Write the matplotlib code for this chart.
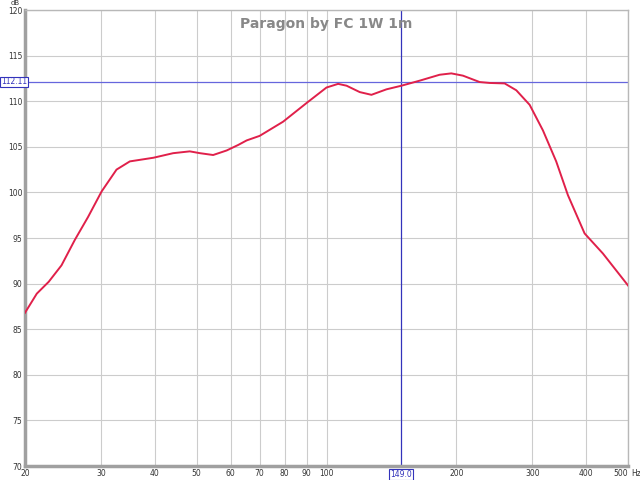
import numpy as np
import matplotlib.pyplot as plt
from matplotlib.ticker import FixedLocator, NullLocator

# response
freq = [20, 21.3, 22.7, 24.3, 26.1, 28.0, 30.1, 32.6, 35.0, 39.7, 44.1, 48.2,
        50.9, 54.6, 58.7, 62.4, 65.3, 70.0, 79.3, 89.9, 100, 106.4, 111.3,
        119.4, 127.1, 137.7, 149.2, 164.4, 182.9, 194.7, 207.2, 226.5, 239,
        258.8, 275.4, 295.8, 317.5, 340.8, 362.8, 396.6, 437.3, 500]
spl = [86.8, 88.9, 90.2, 92.0, 94.8, 97.3, 100.1, 102.5, 103.4, 103.8, 104.3,
       104.5, 104.3, 104.1, 104.6, 105.2, 105.7, 106.2, 107.75, 109.8, 111.5,
       111.9, 111.7, 111.0, 110.7, 111.3, 111.7, 112.25, 112.9, 113.05, 112.8,
       112.1, 112.0, 111.95, 111.2, 109.6, 106.8, 103.4, 99.7, 95.5, 93.3, 89.8]

xticks = [20, 30, 40, 50, 60, 70, 80, 90, 100, 200, 300, 400, 500]
xlabels = ['20', '30', '40', '50', '60', '70', '80', '90', '100', '200', '300', '400', '500']
yticks = list(range(70, 121, 5))

cursor_f = 149.0
cursor_db = 112.11

fig = plt.figure(figsize=(6.4, 4.8), dpi=100)
ax = fig.add_axes([25 / 640, 1 - 466 / 480, 603 / 640, 456 / 480])

ax.set_xscale('log')
ax.set_xlim(20, 500)
ax.set_ylim(70, 120)
ax.xaxis.set_major_locator(FixedLocator(xticks))
ax.xaxis.set_minor_locator(NullLocator())
ax.set_xticks(xticks)
ax.set_xticklabels(xlabels)
ax.get_xticklabels()[-1].set_horizontalalignment('right')
ax.set_yticks(yticks)
ax.grid(True, color='#cccccc', linewidth=0.8)
ax.set_axisbelow(True)
ax.tick_params(length=0, labelsize=5.5, colors='#333333', pad=2)

for s in ax.spines.values():
    s.set_color('#b8b8b8')
    s.set_linewidth(1.0)
ax.spines['left'].set_linewidth(2.5)
ax.spines['bottom'].set_linewidth(2.5)
ax.spines['left'].set_color('#a0a0a0')
ax.spines['bottom'].set_color('#a0a0a0')

ax.plot(freq, spl, color='#e0204a', linewidth=1.4, zorder=3)

ax.axvline(cursor_f, color='#3333bb', linewidth=0.9, zorder=2)
ax.axhline(cursor_db, color='#6666dd', linewidth=0.9, zorder=2)

ax.text(0.5, 0.985, 'Paragon by FC 1W 1m', transform=ax.transAxes,
        ha='center', va='top', fontsize=10, fontweight='bold', color='#888888')

fig.text(15 / 640, 1 - 3 / 480, 'dB', ha='center', va='center', fontsize=5, color='#333333')
fig.text(631 / 640, 1 - 473 / 480, 'Hz', ha='left', va='center', fontsize=5.5, color='#333333')

box = dict(boxstyle='square,pad=0.12', facecolor='white', edgecolor='#3333bb', linewidth=0.8)
fig.text(1 / 640, ax.transData.transform((100, cursor_db))[1] / 480, f'{cursor_db:.2f}',
         ha='left', va='center', fontsize=5.5, color='#3333bb', bbox=box, zorder=5)
ax.text(cursor_f, -0.008, f'{cursor_f:.1f}', transform=ax.get_xaxis_transform(),
        ha='center', va='top', fontsize=5.5, color='#3333bb', bbox=box, zorder=5)

fig.savefig('out.png', dpi=100)
